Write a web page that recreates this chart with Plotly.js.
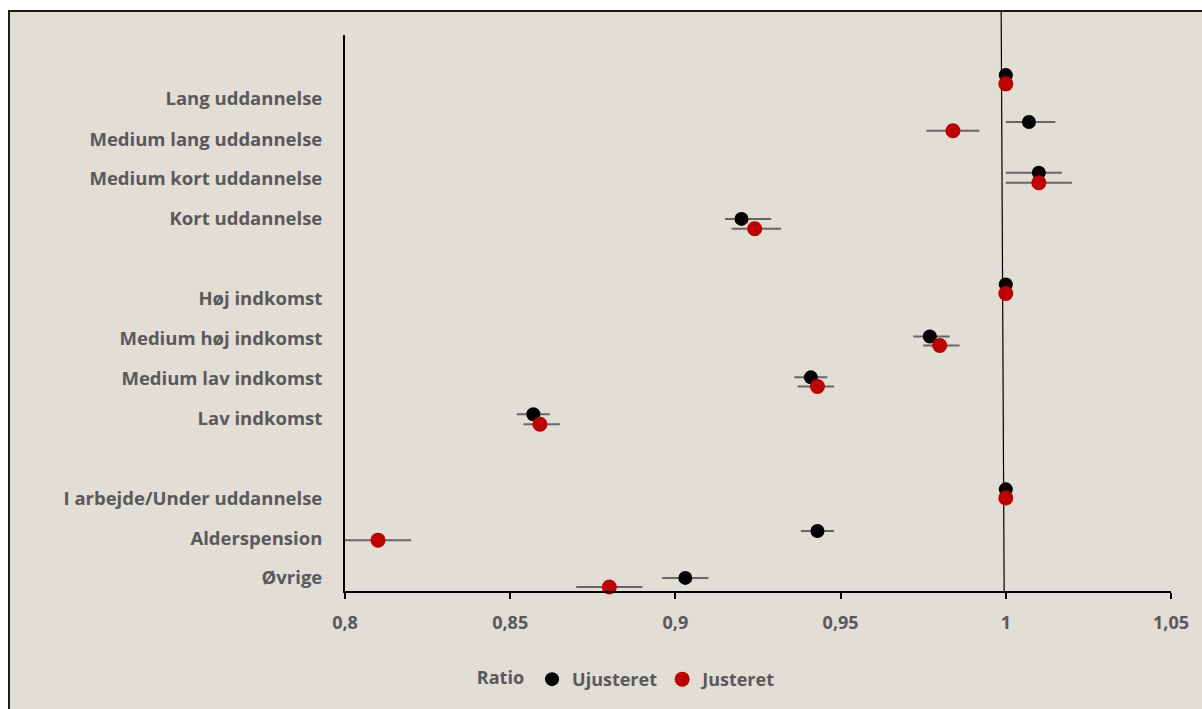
<!DOCTYPE html>
<html>
<head>
<meta charset="utf-8">
<script src="https://cdn.plot.ly/plotly-3.0.1.min.js"></script>
<style>
  html, body { margin: 0; padding: 0; background: #ffffff; width: 1202px; height: 709px; overflow: hidden; }
  #frame { position: absolute; left: 8px; top: 10px; width: 1194px; height: 699px;
           border-left: 2px solid #1a1a1a; border-top: 2px solid #1a1a1a; background: #E1DED5; }
  #chart { width: 1192px; height: 697px; }
</style>
</head>
<body>
<div id="frame"><div id="chart"></div></div>
<script>
const categories = ['Lang uddannelse','Medium lang uddannelse','Medium kort uddannelse','Kort uddannelse',
  'Høj indkomst','Medium høj indkomst','Medium lav indkomst','Lav indkomst',
  'I arbejde/Under uddannelse','Alderspension','Øvrige'];
const labelPos = [12.39, 11.38, 10.38, 9.37, 7.36, 6.36, 5.35, 4.35, 2.34, 1.33, 0.33];

const ujusteret     = [1.000, 1.007, 1.010, 0.920, 1.000, 0.977, 0.941, 0.857, 1.000, 0.943, 0.903];
const ujusteretLow  = [1.000, 1.000, 1.000, 0.915, 1.000, 0.972, 0.936, 0.852, 1.000, 0.938, 0.896];
const ujusteretHigh = [1.000, 1.015, 1.017, 0.929, 1.000, 0.983, 0.946, 0.862, 1.000, 0.948, 0.910];
const ujusteretY    = [12.99, 11.81, 10.53, 9.37, 7.72, 6.41, 5.38, 4.45, 2.56, 1.51, 0.33];

const justeret      = [1.000, 0.984, 1.010, 0.924, 1.000, 0.980, 0.943, 0.859, 1.000, 0.810, 0.880];
const justeretLow   = [1.000, 0.976, 1.000, 0.917, 1.000, 0.975, 0.937, 0.854, 1.000, 0.800, 0.870];
const justeretHigh  = [1.000, 0.992, 1.020, 0.932, 1.000, 0.986, 0.948, 0.865, 1.000, 0.820, 0.890];
const justeretY     = [12.77, 11.59, 10.28, 9.12, 7.49, 6.18, 5.15, 4.20, 2.34, 1.28, 0.10];

const xTickVals = [0.8, 0.85, 0.9, 0.95, 1, 1.05];
const xTickText = ['0,8', '0,85', '0,9', '0,95', '1', '1,05'];

const FONT = '"Open Sans", Lato, sans-serif';
const GREY = '#595959';
const F = { family: FONT, size: 18, color: GREY, weight: 'bold' };
const FY = { family: FONT, size: 18.5, color: GREY, weight: 'bold' };

function mkTrace(name, x, lo, hi, y, color, size) {
  return {
    type: 'scatter', mode: 'markers', name: name,
    x: x, y: y, cliponaxis: false,
    text: categories, hoverinfo: 'x+text+name',
    marker: { color: color, size: size },
    error_x: {
      type: 'data', symmetric: false,
      array: hi.map((h, i) => h - x[i]),
      arrayminus: lo.map((l, i) => x[i] - l),
      color: '#666666', thickness: 2, width: 0
    }
  };
}

const data = [
  mkTrace('Ujusteret', ujusteret, ujusteretLow, ujusteretHigh, ujusteretY, '#000000', 14),
  mkTrace('Justeret', justeret, justeretLow, justeretHigh, justeretY, '#C00000', 15)
];

const layout = {
  width: 1192, height: 697,
  margin: { l: 335, r: 31, t: 23, b: 117 },
  paper_bgcolor: '#E1DED5', plot_bgcolor: '#E1DED5',
  font: F,
  showlegend: true,
  legend: {
    orientation: 'h', x: 0.343, xanchor: 'center', y: -0.157, yanchor: 'middle',
    font: F,
    title: { text: 'Ratio', side: 'left', font: F },
    itemwidth: 30, bgcolor: 'rgba(0,0,0,0)'
  },
  xaxis: {
    range: [0.8, 1.05], tickvals: xTickVals, ticktext: xTickText,
    showgrid: false, zeroline: false,
    showline: true, linecolor: '#000000', linewidth: 2,
    ticks: 'outside', ticklen: 6, tickwidth: 2, tickcolor: '#000000',
    ticklabelstandoff: 8,
    tickfont: F
  },
  yaxis: {
    range: [0, 14], tickvals: labelPos, ticktext: categories,
    showgrid: false, zeroline: false,
    showline: true, linecolor: '#000000', linewidth: 2,
    ticks: 'outside', ticklen: 17, tickcolor: 'rgba(0,0,0,0)',
    tickfont: FY
  },
  shapes: [{
    type: 'line', xref: 'x', yref: 'paper', layer: 'below',
    x0: 0.9995, y0: 0, x1: 0.9986, y1: 1.045,
    line: { color: '#000000', width: 1.2 }
  }]
};

Plotly.newPlot('chart', data, layout, { displayModeBar: false, staticPlot: true });
</script>
</body>
</html>
